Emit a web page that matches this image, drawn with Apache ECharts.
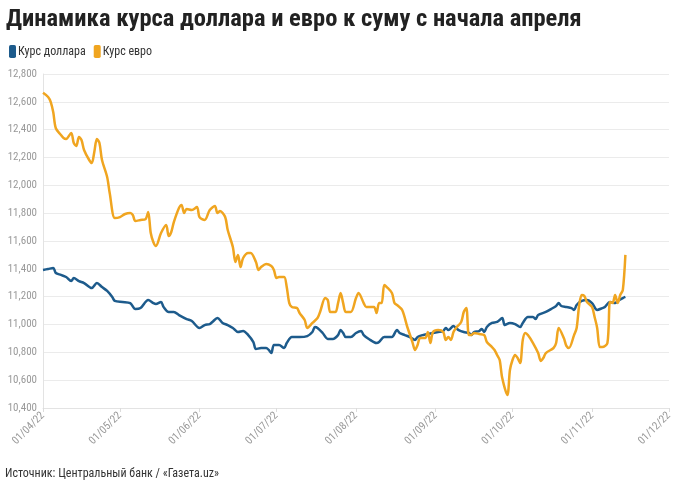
<!DOCTYPE html>
<html>
<head>
<meta charset="utf-8">
<script src="https://cdn.jsdelivr.net/npm/echarts@6/dist/echarts.min.js"></script>
<style>
  html, body { margin: 0; padding: 0; background: #fff; }
  #chart { width: 680px; height: 487px; }
</style>
</head>
<body>
<div id="chart"></div>
<script>
const titleText = 'Динамика курса доллара и евро к суму с начала апреля';
const sourceText = 'Источник: Центральный банк / «Газета.uz»';
const seriesNames = ['Курс доллара', 'Курс евро'];

// тики по оси X (первое число месяца)
const monthTicks = ['2022-04-01', '2022-05-01', '2022-06-01', '2022-07-01', '2022-08-01',
  '2022-09-01', '2022-10-01', '2022-11-01', '2022-12-01'];

// курс доллара, [дата (MM-DD, 2022), сум]
const dollar = [
  ['04-01', 11392], ['04-03', 11399], ['04-05', 11406], ['04-06', 11370], ['04-08', 11356],
  ['04-10', 11341], ['04-12', 11312], ['04-13', 11334], ['04-15', 11312], ['04-17', 11298],
  ['04-20', 11262], ['04-22', 11298], ['04-24', 11269], ['04-26', 11241], ['04-28', 11198],
  ['04-29', 11169], ['05-02', 11162], ['05-05', 11154], ['05-07', 11111], ['05-09', 11118],
  ['05-12', 11176], ['05-14', 11154], ['05-15', 11147], ['05-17', 11162], ['05-18', 11126],
  ['05-20', 11090], ['05-22', 11090], ['05-24', 11068], ['05-27', 11039], ['05-29', 11025],
  ['06-01', 10975], ['06-03', 10996], ['06-05', 11003], ['06-06', 11018], ['06-08', 11047],
  ['06-10', 11011], ['06-12', 10996], ['06-14', 10975], ['06-16', 10946], ['06-18', 10953],
  ['06-20', 10924], ['06-22', 10874], ['06-23', 10824], ['06-25', 10831], ['06-27', 10831],
  ['06-28', 10817], ['06-29', 10795], ['06-30', 10853], ['07-02', 10853], ['07-04', 10831],
  ['07-05', 10867], ['07-07', 10910], ['07-10', 10910], ['07-13', 10917], ['07-15', 10946],
  ['07-16', 10982], ['07-17', 10975], ['07-19', 10939], ['07-21', 10896], ['07-23', 10896],
  ['07-25', 10924], ['07-26', 10960], ['07-27', 10939], ['07-28', 10910], ['07-30', 10910],
  ['08-01', 10939], ['08-03', 10953], ['08-04', 10924], ['08-06', 10896], ['08-09', 10867],
  ['08-10', 10874], ['08-12', 10910], ['08-14', 10910], ['08-15', 10910], ['08-17', 10960],
  ['08-18', 10939], ['08-20', 10924], ['08-22', 10910], ['08-24', 10889], ['08-25', 10910],
  ['08-27', 10924], ['08-29', 10932], ['08-31', 10939], ['09-02', 10946], ['09-04', 10953],
  ['09-05', 10975], ['09-06', 10960], ['09-08', 10989], ['09-09', 10975], ['09-10', 10960],
  ['09-12', 10946], ['09-14', 10939], ['09-15', 10924], ['09-16', 10946], ['09-18', 10953],
  ['09-19', 10968], ['09-20', 10946], ['09-21', 10982], ['09-23', 11011], ['09-25', 11018],
  ['09-27', 11047], ['09-28', 10996], ['09-30', 11011], ['10-02', 11003], ['10-04', 10982],
  ['10-05', 11011], ['10-07', 11054], ['10-09', 11054], ['10-10', 11039], ['10-11', 11068],
  ['10-14', 11090], ['10-16', 11111], ['10-18', 11133], ['10-19', 11154], ['10-20', 11133],
  ['10-22', 11126], ['10-24', 11118], ['10-25', 11104], ['10-26', 11140], ['10-28', 11169],
  ['10-30', 11176], ['11-01', 11154], ['11-03', 11104], ['11-05', 11118], ['11-06', 11126],
  ['11-08', 11162], ['11-10', 11154], ['11-11', 11169], ['11-13', 11190], ['11-14', 11198]
];

// курс евро, [дата (MM-DD, 2022), сум]
const euro = [
  ['04-01', 12665], ['04-03', 12635], ['04-04', 12600], ['04-05', 12525], ['04-06', 12410],
  ['04-08', 12362], ['04-09', 12340], ['04-10', 12333], ['04-12', 12376], ['04-13', 12304],
  ['04-14', 12283], ['04-15', 12347], ['04-16', 12326], ['04-17', 12254], ['04-19', 12182],
  ['04-20', 12160], ['04-21', 12240], ['04-22', 12333], ['04-23', 12304], ['04-24', 12182],
  ['04-26', 12060], ['04-27', 11945], ['04-29', 11765], ['05-01', 11772], ['05-03', 11794],
  ['05-05', 11801], ['05-06', 11787], ['05-07', 11744], ['05-09', 11751], ['05-11', 11758],
  ['05-12', 11808], ['05-13', 11657], ['05-14', 11593], ['05-15', 11564], ['05-17', 11657],
  ['05-19', 11715], ['05-20', 11636], ['05-21', 11665], ['05-22', 11736], ['05-24', 11837],
  ['05-25', 11859], ['05-26', 11801], ['05-27', 11830], ['05-29', 11823], ['05-31', 11844],
  ['06-01', 11772], ['06-03', 11751], ['06-05', 11823], ['06-07', 11851], ['06-08', 11801],
  ['06-09', 11815], ['06-11', 11772], ['06-12', 11679], ['06-14', 11557], ['06-15', 11449],
  ['06-16', 11499], ['06-17', 11413], ['06-18', 11478], ['06-20', 11514], ['06-21', 11514],
  ['06-23', 11449], ['06-24', 11392], ['06-25', 11413], ['06-27', 11435], ['06-29', 11420],
  ['06-30', 11392], ['07-01', 11334], ['07-02', 11341], ['07-04', 11341], ['07-05', 11269],
  ['07-06', 11154], ['07-07', 11126], ['07-09', 11118], ['07-10', 11083], ['07-12', 11032],
  ['07-13', 10975], ['07-15', 11011], ['07-17', 11047], ['07-18', 11090], ['07-20', 11190],
  ['07-21', 11176], ['07-22', 11090], ['07-24', 11090], ['07-25', 11154], ['07-26', 11226],
  ['07-27', 11154], ['07-28', 11090], ['07-30', 11090], ['08-01', 11190], ['08-02', 11226],
  ['08-04', 11154], ['08-05', 11126], ['08-08', 11126], ['08-09', 11083], ['08-10', 11154],
  ['08-11', 11154], ['08-12', 11284], ['08-13', 11269], ['08-15', 11226], ['08-16', 11154],
  ['08-17', 11140], ['08-19', 11104], ['08-21', 10982], ['08-23', 10874], ['08-24', 10817],
  ['08-25', 10853], ['08-26', 10903], ['08-28', 10903], ['08-29', 10946], ['08-30', 10867],
  ['08-31', 10946], ['09-02', 10960], ['09-04', 10946], ['09-05', 10889], ['09-06', 10910],
  ['09-07', 10889], ['09-08', 10946], ['09-09', 10975], ['09-11', 11018], ['09-12', 11090],
  ['09-13', 11118], ['09-14', 10924], ['09-15', 10924], ['09-16', 10939], ['09-18', 10932],
  ['09-20', 10924], ['09-21', 10874], ['09-23', 10838], ['09-24', 10817], ['09-25', 10781],
  ['09-26', 10745], ['09-27', 10615], ['09-29', 10493], ['09-30', 10673], ['10-01', 10745],
  ['10-02', 10781], ['10-03', 10759], ['10-04', 10723], ['10-05', 10889], ['10-06', 10939],
  ['10-07', 10924], ['10-09', 10867], ['10-11', 10795], ['10-12', 10738], ['10-13', 10759],
  ['10-14', 10795], ['10-17', 10831], ['10-18', 10867], ['10-19', 10975], ['10-21', 10903],
  ['10-22', 10846], ['10-23', 10831], ['10-25', 10924], ['10-26', 10975], ['10-27', 11140],
  ['10-28', 11212], ['10-29', 11205], ['10-30', 11162], ['11-01', 11126], ['11-02', 11054],
  ['11-03', 10975], ['11-04', 10838], ['11-05', 10838], ['11-07', 10867], ['11-08', 11162],
  ['11-09', 11154], ['11-10', 11212], ['11-11', 11154], ['11-12', 11212], ['11-13', 11248],
  ['11-14', 11500]
];

const colors = ['#1d5b8c', '#f0a520'];
const font = '"Roboto Condensed", "DejaVu Sans Condensed", Roboto, sans-serif';

const ts = (s) => new Date(s + 'T00:00:00').getTime();
const toPoints = (arr) => arr.map((p) => [ts('2022-' + p[0]), p[1]]);
const tickValues = monthTicks.map(ts);

const chart = echarts.init(document.getElementById('chart'));

const option = {
  backgroundColor: '#fff',
  animation: false,
  color: colors,
  textStyle: { fontFamily: font },
  title: {
    text: titleText,
    left: 1,
    top: 2,
    textStyle: { fontFamily: font, fontSize: 24.5, fontWeight: 'bold', color: '#222' }
  },
  legend: {
    left: 4,
    top: 40,
    icon: 'roundRect',
    itemWidth: 7,
    itemHeight: 13,
    itemGap: 8,
    textStyle: { fontFamily: font, fontSize: 12, color: '#333', padding: [0, 0, 0, -3] },
    data: seriesNames
  },
  graphic: [{
    type: 'text',
    x: 5,
    y: 468,
    style: { text: sourceText, font: '12px ' + font, fill: '#333', textVerticalAlign: 'top' }
  }],
  grid: { left: 43, right: 11, top: 74, bottom: 79 },
  xAxis: {
    type: 'value',
    min: tickValues[0],
    max: tickValues[tickValues.length - 1],
    axisLine: { show: true, lineStyle: { color: '#e3e3e3' } },
    axisTick: { show: true, customValues: tickValues, length: 4, lineStyle: { color: '#dcdcdc' } },
    splitLine: { show: false },
    axisLabel: {
      customValues: tickValues,
      formatter: (v) => {
        const d = new Date(v);
        const dd = String(d.getDate()).padStart(2, '0');
        const mm = String(d.getMonth() + 1).padStart(2, '0');
        return dd + '/' + mm + '/' + String(d.getFullYear()).slice(2);
      },
      rotate: 45,
      fontSize: 11,
      color: '#999',
      fontFamily: font,
      margin: 6,
      showMinLabel: true,
      showMaxLabel: true
    }
  },
  yAxis: {
    type: 'value',
    min: 10400,
    max: 12800,
    interval: 200,
    axisLine: { show: true, lineStyle: { color: '#e3e3e3' } },
    axisTick: { show: false },
    splitLine: { lineStyle: { color: '#ebebeb' } },
    axisLabel: {
      formatter: (v) => v.toLocaleString('en-US'),
      fontSize: 11,
      color: '#999',
      fontFamily: font,
      margin: 6
    }
  },
  series: [
    {
      name: seriesNames[0],
      type: 'line',
      data: toPoints(dollar),
      showSymbol: false,
      smooth: 0.3,
      lineStyle: { width: 2.5 }
    },
    {
      name: seriesNames[1],
      type: 'line',
      data: toPoints(euro),
      showSymbol: false,
      smooth: 0.3,
      lineStyle: { width: 2.5 }
    }
  ]
};

chart.setOption(option);
</script>
</body>
</html>
